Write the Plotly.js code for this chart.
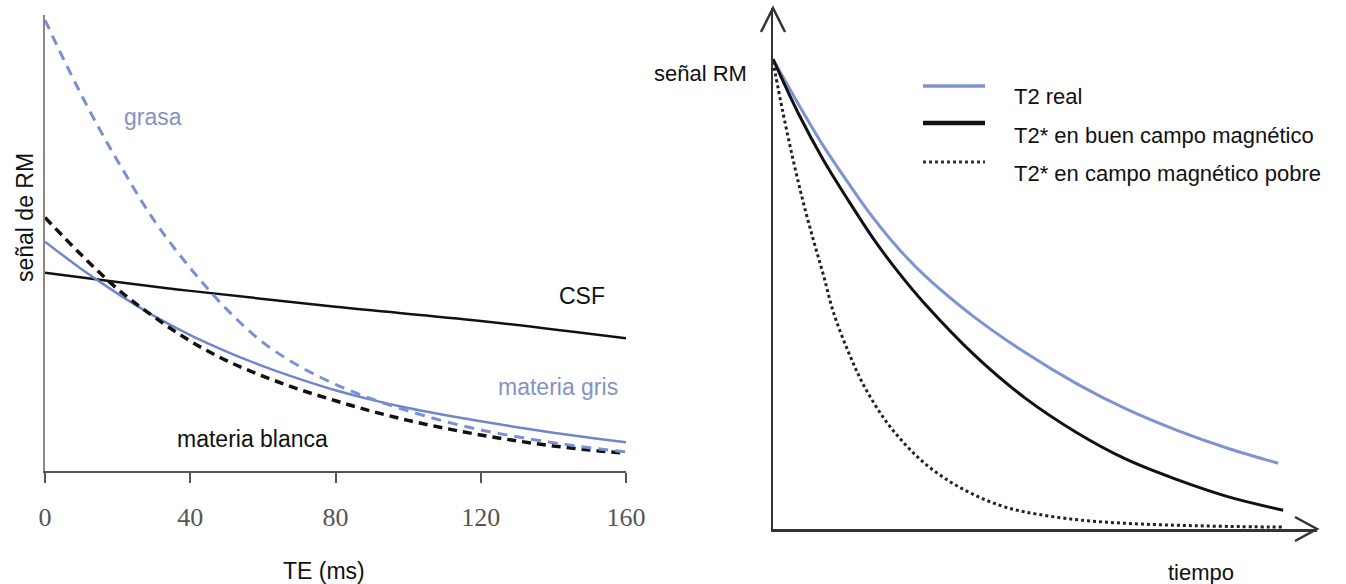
<!DOCTYPE html>
<html>
<head>
<meta charset="utf-8">
<script src="https://cdn.plot.ly/plotly-3.0.1.min.js"></script>
<style>html,body{margin:0;padding:0;background:#fff;}#chart{width:1346px;height:584px;}</style>
</head>
<body>
<div id="chart"></div>
<script>
// ---------- Left chart: signal vs TE (ms) ----------
const teTicks = [0, 40, 80, 120, 160];

const teGrasa = [0, 5, 10, 15, 20, 30, 40, 50, 60, 70, 80, 90, 100, 110, 120, 130, 140, 150, 160];
const grasa   = [98.9, 90.5, 82.5, 75.0, 68.0, 55.0, 44.5, 35.5, 28.2, 23.0, 19.0, 15.8, 13.2, 10.9, 9.0, 7.5, 6.2, 5.1, 4.2];

const teCSF = [0, 40, 80, 120, 160];
const csf   = [43.5, 39.5, 36.0, 32.9, 29.1];

const teGris = [0, 10, 20, 30, 40, 50, 60, 70, 80, 90, 100, 110, 120, 130, 140, 150, 160];
const gris   = [50.3, 44.3, 38.9, 34.0, 29.8, 26.2, 23.0, 20.2, 17.7, 15.6, 13.8, 12.3, 10.9, 9.6, 8.4, 7.3, 6.3];

const teBlanca = [0, 10, 20, 30, 40, 50, 60, 70, 80, 90, 100, 110, 120, 130, 140, 150, 160];
const blanca   = [55.6, 47.4, 39.9, 33.8, 28.5, 24.2, 20.8, 17.9, 15.4, 13.1, 11.1, 9.4, 7.9, 6.6, 5.5, 4.6, 3.9];

// ---------- Right chart: signal vs time ----------
const tReal = [0, 5, 10, 15, 20, 25, 30, 40, 50, 60, 70, 80, 90, 100];
const real  = [100, 90.5, 81.5, 73.5, 66.0, 59.5, 54.0, 45.0, 37.5, 31.0, 25.5, 21.0, 17.2, 14.0];

const tBuen = [0, 5, 10, 15, 20, 25, 30, 40, 50, 60, 70, 80, 90, 101];
const buen  = [100, 88.5, 78.5, 69.8, 61.6, 54.4, 48.0, 36.9, 27.8, 20.6, 14.8, 10.5, 6.9, 4.0];

const tPobre = [0, 2, 4, 6, 8, 10, 12, 15, 18, 22, 26, 30, 35, 40, 45, 50, 60, 70, 80, 90, 101];
const pobre  = [99.5, 88.5, 78.5, 69.5, 61.5, 54.0, 46.0, 37.5, 30.5, 23.5, 18.2, 14.0, 10.1, 7.2, 5.0, 3.6, 2.0, 1.2, 0.8, 0.55, 0.4];

const legendLabels = ["T2 real", "T2* en buen campo magnético", "T2* en campo magnético pobre"];

// ---------- helpers (pixel -> paper) ----------
const W = 1346, H = 584;
const px = x => x / W;
const py = y => 1 - y / H;

const SANS = "Liberation Sans, Arial, Helvetica, sans-serif";
const SERIF = "Liberation Serif, Times New Roman, serif";
const BLUE = "#7f93d2";
const BLUE_TXT = "#8592c4";

const traces = [
  {x: teCSF, y: csf, xaxis: "x", yaxis: "y", mode: "lines",
   line: {color: "#111", width: 2.5, shape: "spline", smoothing: 1}},
  {x: teGris, y: gris, xaxis: "x", yaxis: "y", mode: "lines",
   line: {color: "#6f86cb", width: 2.5, shape: "spline", smoothing: 1}},
  {x: teBlanca, y: blanca, xaxis: "x", yaxis: "y", mode: "lines",
   line: {color: "#111", width: 3.5, dash: "9px,6px", shape: "spline", smoothing: 1}},
  {x: teGrasa, y: grasa, xaxis: "x", yaxis: "y", mode: "lines",
   line: {color: "#7b8fd3", width: 3, dash: "10px,7px", shape: "spline", smoothing: 1}},

  {x: tReal, y: real, xaxis: "x2", yaxis: "y2", mode: "lines",
   line: {color: BLUE, width: 3, shape: "spline", smoothing: 1}},
  {x: tBuen, y: buen, xaxis: "x2", yaxis: "y2", mode: "lines",
   line: {color: "#111", width: 3, shape: "spline", smoothing: 1}},
  {x: tPobre, y: pobre, xaxis: "x2", yaxis: "y2", mode: "lines",
   line: {color: "#222", width: 3, dash: "dot", shape: "spline", smoothing: 1}}
];

function ann(text, x, y, opts) {
  return Object.assign({text: text, x: px(x), y: py(y), xref: "paper", yref: "paper",
    showarrow: false, xanchor: "center", yanchor: "middle",
    font: {family: SANS, size: 23, color: "#111"}}, opts || {});
}

const annotations = [
  ann("grasa", 153, 117, {font: {family: SANS, size: 23, color: BLUE_TXT}}),
  ann("CSF", 582, 296),
  ann("materia gris", 558, 387, {font: {family: SANS, size: 23, color: BLUE_TXT}}),
  ann("materia blanca", 252, 439),
  ann("señal de RM", 25, 218, {textangle: -90}),
  ann("TE (ms)", 324, 571),
  ann("señal RM", 700, 73, {font: {family: SANS, size: 22, color: "#111"}}),
  ann("tiempo", 1201, 572, {font: {family: SANS, size: 22, color: "#111"}}),
  ann(legendLabels[0], 1012, 96, {xanchor: "left", font: {family: SANS, size: 22, color: "#111"}}),
  ann(legendLabels[1], 1012, 135, {xanchor: "left", font: {family: SANS, size: 22, color: "#111"}}),
  ann(legendLabels[2], 1012, 173, {xanchor: "left", font: {family: SANS, size: 22, color: "#111"}})
];

function seg(x0, y0, x1, y1, line) {
  return {type: "line", xref: "paper", yref: "paper", x0: px(x0), y0: py(y0), x1: px(x1), y1: py(y1), line: line};
}
function path(points, line) {
  const d = points.map((p, i) => (i ? "L" : "M") + px(p[0]) + "," + py(p[1])).join(" ");
  return {type: "path", xref: "paper", yref: "paper", path: d, line: line};
}

const shapes = [
  // arrowheads of the right chart axes
  path([[761, 32], [773, 8], [785, 32]], {color: "#333", width: 2.5}),
  path([[1295, 517], [1317, 529], [1295, 541]], {color: "#333", width: 2.5}),
  // legend samples
  seg(923, 86, 985, 86, {color: BLUE, width: 3.5}),
  seg(923, 123, 985, 123, {color: "#111", width: 4.5}),
  seg(923, 162, 985, 162, {color: "#333", width: 3, dash: "dot"})
];

const layout = {
  width: W, height: H,
  margin: {l: 0, r: 0, t: 0, b: 0},
  paper_bgcolor: "#fff", plot_bgcolor: "#fff",
  showlegend: false,
  xaxis: {domain: [px(45), px(626)], range: [0, 160], anchor: "y",
    tickmode: "array", tickvals: teTicks, ticktext: teTicks.map(String),
    ticks: "outside", ticklen: 10, tickwidth: 2, tickcolor: "#555",
    ticklabelstandoff: 12,
    showline: true, linecolor: "#555", linewidth: 2,
    showgrid: false, zeroline: false,
    tickfont: {family: SERIF, size: 26, color: "#555"}},
  yaxis: {domain: [py(471), py(15)], range: [0, 100], anchor: "x",
    showline: true, linecolor: "#888", linewidth: 2,
    showgrid: false, zeroline: false, showticklabels: false, ticks: ""},
  xaxis2: {domain: [px(773), px(1317)], range: [0, 107.7], anchor: "y2",
    showline: true, linecolor: "#333", linewidth: 2.5,
    showgrid: false, zeroline: false, showticklabels: false, ticks: ""},
  yaxis2: {domain: [py(529), py(8)], range: [0, 110.9], anchor: "x2",
    showline: true, linecolor: "#333", linewidth: 2.5,
    showgrid: false, zeroline: false, showticklabels: false, ticks: ""},
  annotations: annotations,
  shapes: shapes
};

Plotly.newPlot("chart", traces, layout, {staticPlot: true, displayModeBar: false});
</script>
</body>
</html>
